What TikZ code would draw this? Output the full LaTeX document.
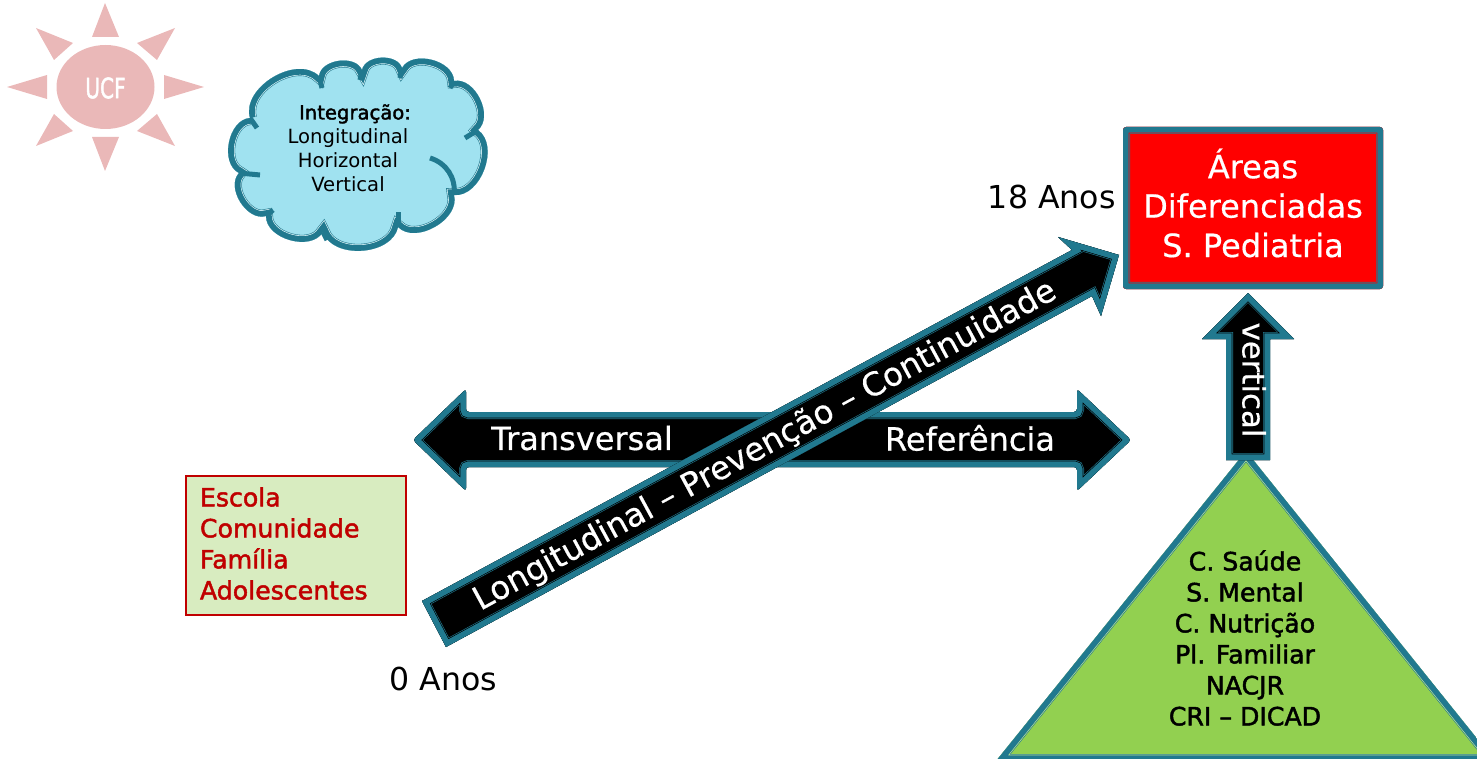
\documentclass[tikz,border=0pt]{standalone}
\usepackage{fontspec}
\setmainfont{DejaVu Sans}
\newfontfamily\fauxbold[FakeBold=1.8]{DejaVu Sans}
\newfontfamily\semibold[FakeBold=0.5]{DejaVu Sans}
\definecolor{bandteal}{RGB}{33,121,143}
\definecolor{sunpink}{RGB}{234,184,184}
\definecolor{cloudblue}{RGB}{160,226,240}
\definecolor{leafgreen}{RGB}{146,208,80}
\definecolor{boxgreen}{RGB}{216,236,192}
\definecolor{darkred}{RGB}{192,0,0}
\tikzset{
    ray/.style={fill=sunpink},
    bigtext/.style={text=white,font=\semibold\fontsize{16}{19.7}\selectfont},
    saytext/.style={inner sep=0pt,font=\fontsize{15.8}{19.7}\selectfont},
    listtext/.style={font=\fauxbold\fontsize{12.6}{15.5}\selectfont,align=center},
    cloudarc/.style={draw=bandteal,line width=2.5pt},
}
% #1 path, #2 fill, #3 thin line beside the band, #4 corner radius
\newcommand{\bandedshape}[4]{
    \begin{scope}[rounded corners=#4]
        \clip #1;
        \fill[#2] #1;
        \draw[bandteal,line width=7pt] #1;
        \draw[#3,line width=6.4pt] #1;
        \draw[bandteal,line width=5.7pt] #1;
    \end{scope}
}
\begin{document}
\begin{tikzpicture}[x=0.5pt,y=-0.5pt]
    \useasboundingbox (0,0) rectangle (1477,759);
    \clip (0,0) rectangle (1477,759);

    % sun
    \fill[sunpink] (105.5,87) ellipse [x radius=24.5pt,y radius=21pt];
    \node[text=white,font=\fauxbold\fontsize{14}{16}\selectfont,xscale=0.72] (ucf) at (105.5,88) {UCF};
    \fill[ray] (105,3) -- (119,37) -- (92,37) -- cycle;
    \fill[ray] (105,171) -- (119,137) -- (92,137) -- cycle;
    \fill[ray] (7,87) -- (47,75) -- (47,99) -- cycle;
    \fill[ray] (204,87) -- (164,75) -- (164,99) -- cycle;
    \fill[ray] (36,28) -- (73,43) -- (54,60) -- cycle;
    \fill[ray] (175,28) -- (137,43) -- (157,60) -- cycle;
    \fill[ray] (36,146) -- (73,131) -- (54,114) -- cycle;
    \fill[ray] (175,146) -- (137,131) -- (157,114) -- cycle;

    % cloud
    \bandedshape{(250,118) to[bend left=75] (319,76) to[bend left=75] (362,70) to[bend left=75] (402,68)
        to[bend left=75] (454,81) to[bend left=75] (478,130) to[bend left=75] (454,195)
        to[bend left=75] (398,227) to[bend left=75] (323,232) to[bend left=75] (266,216)
        to[bend left=75] (239,173) to[bend left=75] (250,118)}{cloudblue}{cloudblue!40!white}{0pt}
    \draw[cloudarc] (430,158) to[bend left=40] (454,195);
    \draw[cloudarc] (398,227) -- (398,212);
    \draw[cloudarc] (323,232) -- (327,240);
    \draw[cloudarc] (266,216) -- (273,210);
    \draw[cloudarc] (239,173) -- (260,175);
    \draw[cloudarc] (250,118) -- (257,128);
    \draw[cloudarc] (319,76) -- (322,88);
    \draw[cloudarc] (362,70) -- (360,80);
    \draw[cloudarc] (402,68) -- (400,78);
    \draw[cloudarc] (454,81) -- (450,88);
    \draw[cloudarc] (478,130) -- (465,138);
    \node[font=\fontsize{9.8}{12}\selectfont,align=center] (integracao) at (348,148)
        {\hspace*{7pt}{\fauxbold Integração:}\\Longitudinal\\Horizontal\\Vertical};

    % red box
    \bandedshape{(1123,127) rectangle (1383,289)}{red}{red}{1.5pt}
    \node[bigtext,align=center] (areas) at (1253,203) {Áreas\\Diferenciadas\\S. Pediatria};
    \node[saytext,anchor=east] (anos18) at (1116,197) {18 Anos};

    % double arrow
    \bandedshape{(413,440) -- (466,389) -- (466,412) -- (1077,412) -- (1077,389) -- (1131,440)
        -- (1077,491) -- (1077,467) -- (466,467) -- (466,491) -- cycle}{black}{black}{1.5pt}
    \node[bigtext] (transversal) at (582,438) {Transversal};
    \node[bigtext] (referencia) at (970,438) {Referência};

    % long arrow
    \bandedshape{(422,601) -- (1072,250) -- (1058,237) -- (1119,255) -- (1101,316) -- (1092,296)
        -- (446,647) -- cycle}{black}{black}{0pt}
    \node[bigtext,font=\semibold\fontsize{16.2}{19}\selectfont,rotate=28.5] (longitudinal) at (765,446)
        {Longitudinal – Prevenção – Continuidade};

    % triangle and up arrow
    \bandedshape{(1246,451) -- (1495,761) -- (996,761) -- cycle}{leafgreen}{leafgreen!60!white}{0pt}
    \bandedshape{(1248,293) -- (1294,339) -- (1270,339) -- (1270,460) -- (1226,460) -- (1226,339)
        -- (1202,339) -- cycle}{black}{black}{0pt}
    \node[bigtext,font=\semibold\fontsize{15.4}{18}\selectfont,rotate=-90] (vertical) at (1254,380) {vertical};
    \node[listtext] (saude) at (1245,638)
        {C. Saúde\\S. Mental\\C. Nutrição\\Pl. Familiar\\NACJR\\CRI – DICAD};

    % left box
    \node[listtext,draw=darkred,text=darkred,line width=0.75pt,fill=boxgreen,align=left,text width=96pt,
        inner xsep=7pt,minimum height=69.5pt] (escola) at (296,545.5)
        {Escola\\Comunidade\\Família\\Adolescentes\par\vspace{2pt}};
    \node[saytext,anchor=west] (anos0) at (389,679) {0 Anos};
\end{tikzpicture}
\end{document}
